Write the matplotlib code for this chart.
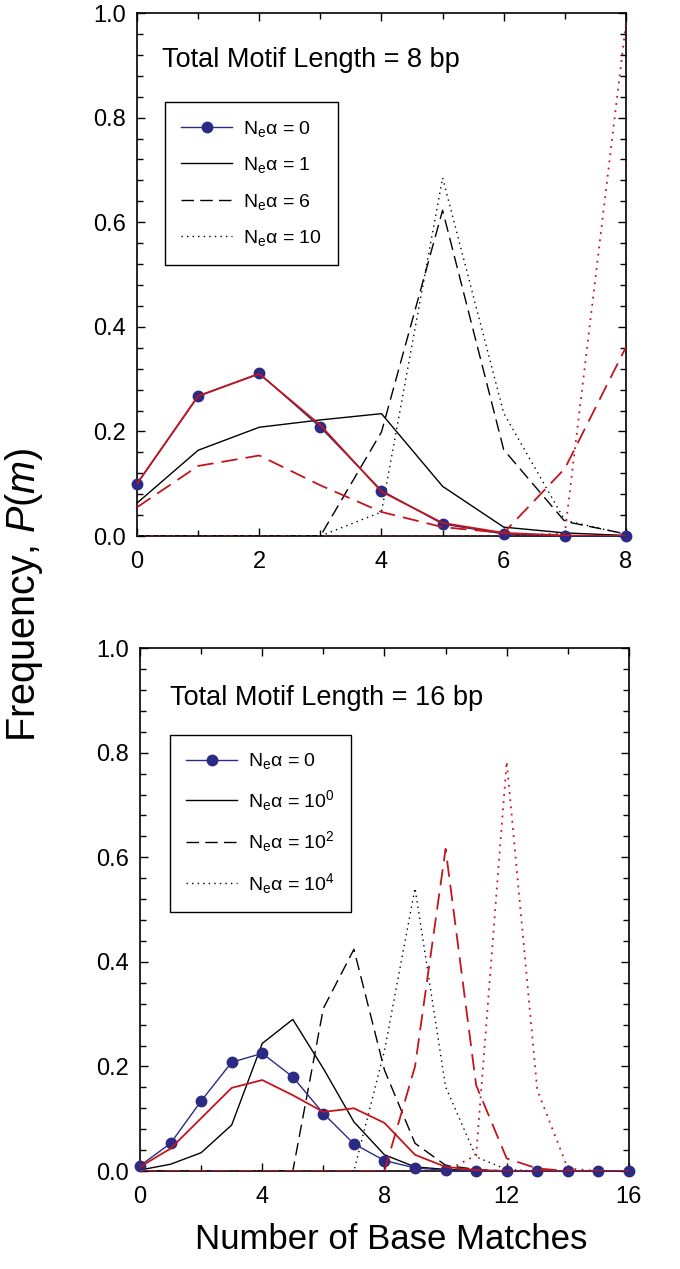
import matplotlib
matplotlib.use('Agg')
import matplotlib.pyplot as plt
from matplotlib.ticker import MultipleLocator, FormatStrFormatter

plt.rcParams['font.family'] = ['Liberation Sans', 'DejaVu Sans']
plt.rcParams['mathtext.fontset'] = 'custom'
plt.rcParams['mathtext.rm'] = 'Liberation Sans'
plt.rcParams['mathtext.it'] = 'Liberation Sans:italic'
plt.rcParams['mathtext.bf'] = 'Liberation Sans:bold'

BLUE = '#2b2a85'
RED = '#c4141c'

# ---- panel 1: motif length 8 ----
m8 = list(range(9))
p8_ne0 = [0.100, 0.267, 0.311, 0.208, 0.087, 0.023, 0.004, 0.0004, 0.0]
p8_ne0_red = [0.100, 0.268, 0.310, 0.212, 0.085, 0.025, 0.006, 0.001, 0.0]
p8_ne1 = [0.063, 0.164, 0.208, 0.222, 0.234, 0.095, 0.017, 0.006, 0.001]
p8_ne6 = [0.0, 0.0, 0.0, 0.0, 0.199, 0.623, 0.165, 0.028, 0.004]
p8_ne10 = [0.0, 0.0, 0.0, 0.0, 0.046, 0.685, 0.235, 0.030, 0.003]
p8_red_dash = [0.055, 0.134, 0.154, 0.097, 0.046, 0.017, 0.006, 0.129, 0.361]
p8_red_dot = [0.0, 0.0, 0.0, 0.0, 0.0, 0.0, 0.0, 0.005, 0.980]
labels8 = [r'N$_{\rm e}$α = 0', r'N$_{\rm e}$α = 1', r'N$_{\rm e}$α = 6', r'N$_{\rm e}$α = 10']

# ---- panel 2: motif length 16 ----
m16 = list(range(17))
p16_ne0 = [0.010, 0.053, 0.134, 0.208, 0.225, 0.180, 0.110, 0.052, 0.020, 0.006, 0.0014,
           0.0, 0.0, 0.0, 0.0, 0.0, 0.0]
p16_ne0_red = [0.008, 0.043, 0.101, 0.159, 0.174, 0.145, 0.113, 0.120, 0.092, 0.031, 0.008,
               0.002, 0.0, 0.0, 0.0, 0.0, 0.0]
p16_ne1 = [0.002, 0.013, 0.035, 0.088, 0.244, 0.290, 0.196, 0.094, 0.031, 0.008, 0.003,
           0.001, 0.0, 0.0, 0.0, 0.0, 0.0]
p16_ne100 = [0.0, 0.0, 0.0, 0.0, 0.0, 0.0, 0.311, 0.424, 0.193, 0.053, 0.011,
             0.003, 0.0, 0.0, 0.0, 0.0, 0.0]
p16_ne10000 = [0.0, 0.0, 0.0, 0.0, 0.0, 0.0, 0.0, 0.0, 0.23, 0.541, 0.161,
               0.027, 0.003, 0.0, 0.0, 0.0, 0.0]
p16_red_dash = [0.0, 0.0, 0.0, 0.0, 0.0, 0.0, 0.0, 0.0, 0.0, 0.20, 0.616,
                0.164, 0.024, 0.005, 0.0, 0.0, 0.0]
p16_red_dot = [0.0, 0.0, 0.0, 0.0, 0.0, 0.0, 0.0, 0.0, 0.0, 0.0, 0.0,
               0.03, 0.783, 0.155, 0.005, 0.0, 0.0]
labels16 = [r'N$_{\rm e}$α = 0', r'N$_{\rm e}$α = 10$^0$', r'N$_{\rm e}$α = 10$^2$',
            r'N$_{\rm e}$α = 10$^4$']

DASH = (0, (9, 4.5))
DOT = (0, (1, 3))
LW = 1.0


def style_axes(ax, xmax, xmajor, xminor):
    ax.set_xlim(0, xmax)
    ax.set_ylim(0, 1.0)
    ax.xaxis.set_major_locator(MultipleLocator(xmajor))
    ax.xaxis.set_minor_locator(MultipleLocator(xminor))
    ax.yaxis.set_major_locator(MultipleLocator(0.2))
    ax.yaxis.set_minor_locator(MultipleLocator(0.04))
    ax.yaxis.set_major_formatter(FormatStrFormatter('%.1f'))
    ax.tick_params(which='both', direction='in', top=True, right=True, labelsize=17, width=1.0)
    ax.tick_params(which='major', length=6, pad=8)
    ax.tick_params(which='minor', length=4)
    ax.tick_params(axis='x', which='major', pad=11)
    for s in ax.spines.values():
        s.set_linewidth(1.2)


def draw_panel(ax, x, blue, red, solid, dashed, dotted, red_dash, red_dot):
    h0, = ax.plot(x, blue, color=BLUE, lw=LW, marker='o', ms=7.5, clip_on=False, zorder=3)
    h1, = ax.plot(x, solid, color='black', lw=LW, zorder=2)
    h2, = ax.plot(x, dashed, color='black', lw=LW, ls=DASH, zorder=2)
    h3, = ax.plot(x, dotted, color='black', lw=LW, ls=DOT, zorder=2)
    ax.plot(x, red, color=RED, lw=1.3, zorder=4)
    ax.plot(x, red_dash, color=RED, lw=1.3, ls=DASH, zorder=4)
    ax.plot(x, red_dot, color=RED, lw=1.3, ls=DOT, zorder=4)
    return [h0, h1, h2, h3]


def add_legend(ax, handles, labels, anchor):
    leg = ax.legend(handles, labels, loc='upper left', bbox_to_anchor=anchor, borderaxespad=0,
                    fontsize=14, fancybox=False, edgecolor='black', framealpha=1,
                    handlelength=2.6, handletextpad=0.55, labelspacing=0.85, borderpad=0.85)
    leg.get_frame().set_linewidth(1.0)


fig = plt.figure(figsize=(6.8, 12.69), dpi=100)
ax1 = fig.add_axes([0.2015, 0.5776, 0.719, 0.4121])
ax2 = fig.add_axes([0.2059, 0.0772, 0.719, 0.4121])

hs = draw_panel(ax1, m8, p8_ne0, p8_ne0_red, p8_ne1, p8_ne6, p8_ne10, p8_red_dash, p8_red_dot)
style_axes(ax1, 8, 2, 1)
ax1.text(0.051, 0.91, 'Total Motif Length = 8 bp', transform=ax1.transAxes,
         fontsize=19.5, va='center', ha='left')
add_legend(ax1, hs, labels8, (0.057, 0.83))

hs = draw_panel(ax2, m16, p16_ne0, p16_ne0_red, p16_ne1, p16_ne100, p16_ne10000,
                p16_red_dash, p16_red_dot)
style_axes(ax2, 16, 4, 2)
ax2.text(0.061, 0.904, 'Total Motif Length = 16 bp', transform=ax2.transAxes,
         fontsize=19.5, va='center', ha='left')
add_legend(ax2, hs, labels16, (0.061, 0.834))

fig.text(0.035, 0.531, 'Frequency, $P$($m$)', rotation=90, fontsize=28.5, ha='center', va='center')
fig.text(0.575, 0.023, 'Number of Base Matches', fontsize=25, ha='center', va='center')

fig.savefig('out.png', dpi=100)
